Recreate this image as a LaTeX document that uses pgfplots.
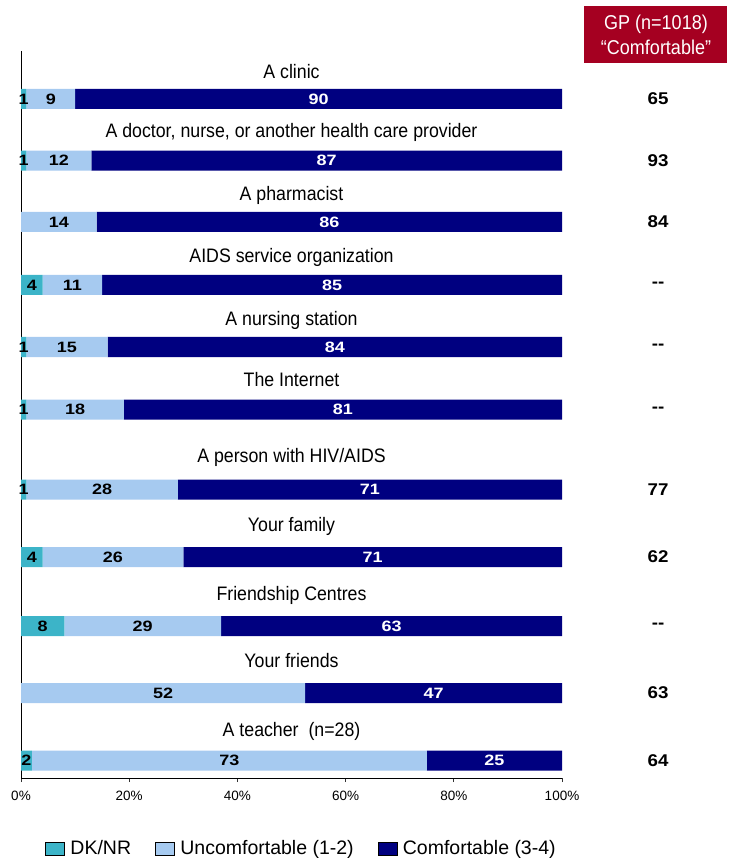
\documentclass[border=0pt]{standalone}
\usepackage{fontspec}
\setmainfont{Liberation Sans}
\usepackage{pgfplots}
\pgfplotsset{compat=1.18}
\usepackage{pgfplotstable}

\definecolor{dkc}{RGB}{60,180,200}
\definecolor{uncc}{RGB}{166,202,240}
\definecolor{comc}{RGB}{0,0,128}
\definecolor{gpred}{RGB}{165,0,33}

% y = vertical position of the bar (top-down), values in percent, labels as printed
\pgfplotstableread{
y     dk  unc   com   dkl  uncl  coml
99    1   9     90    1    9     90
160.7 1   12    87    1    12    87
222   0   14    86    {}   14    86
285   4   11    85    4    11    85
347   1   15    84    1    15    84
409.5 1   18    81    1    18    81
489.5 1   28    71    1    28    71
557   4   26    70    4    26    71
626   8   29    63    8    29    63
693   0   52.5  47.5  {}   52    47
760.5 2   73    25    2    73    25
}\datatable

\begin{document}
\begin{tikzpicture}
\path[use as bounding box] (0pt,0pt) rectangle (729pt,858pt);
\begin{axis}[
  at={(21pt,80pt)}, anchor=south west,
  width=541pt, height=727pt, scale only axis,
  xmin=0, xmax=100, ymin=51, ymax=778, y dir=reverse,
  xbar stacked, bar width=20pt,
  axis x line*=bottom, axis y line*=left,
  axis line style={black, line width=1pt},
  ytick=\empty,
  xtick={0,20,40,60,80,100},
  xticklabels={0\%,20\%,40\%,60\%,80\%,100\%},
  tick align=outside, major tick length=4pt,
  tick style={black!80, line width=0.8pt},
  xticklabel style={font=\fontsize{13.5}{15}\selectfont, yshift=-6pt},
  legend columns=3,
  legend style={draw=none, fill=none,
    at={(0.039,-0.097)}, anchor=west,
    font=\fontsize{19.5}{23}\selectfont,
    /tikz/every odd column/.append style={column sep=4pt},
    /tikz/every even column/.append style={column sep=22pt}},
  area legend,
  legend image post style={xscale=1.1, yscale=2.3},
]
\addplot[fill=dkc, draw=none] table[x=dk, y=y]{\datatable};
\addplot[fill=uncc, draw=none] table[x=unc, y=y]{\datatable};
\addplot[fill=comc, draw=none] table[x=com, y=y]{\datatable};
\legend{DK/NR, Uncomfortable (1-2), Comfortable (3-4)}
\end{axis}

% value labels, centred in their segments
\begin{axis}[
  at={(21pt,80pt)}, anchor=south west,
  width=541pt, height=727pt, scale only axis,
  xmin=0, xmax=100, ymin=51, ymax=778, y dir=reverse,
  clip=false, hide axis,
  point meta=explicit symbolic, nodes near coords,
  every node near coord/.append style={anchor=center, inner sep=0pt, xscale=1.2,
      font=\bfseries\fontsize{15}{17}\selectfont}]
\addplot[draw=none, mark=none, every node near coord/.append style={text=black}]
  table[x expr=\thisrow{dk}/2, y=y, meta=dkl]{\datatable};
\addplot[draw=none, mark=none, every node near coord/.append style={text=black}]
  table[x expr=\thisrow{dk}+\thisrow{unc}/2, y=y, meta=uncl]{\datatable};
\addplot[draw=none, mark=none, every node near coord/.append style={text=white}]
  table[x expr=\thisrow{dk}+\thisrow{unc}+\thisrow{com}/2, y=y, meta=coml]{\datatable};
\end{axis}

% category labels (x = 50 %, above each bar)
\begin{scope}[every node/.style={anchor=base, inner sep=0pt, xscale=0.91, font=\fontsize{19.5}{22}\selectfont}]
\node at (291.5pt,779pt) {A clinic};
\node at (291.5pt,720pt) {A doctor, nurse, or another health care provider};
\node at (291.5pt,657pt) {A pharmacist};
\node at (291.5pt,595pt) {AIDS service organization};
\node at (291.5pt,532pt) {A nursing station};
\node at (291.5pt,471pt) {The Internet};
\node at (291.5pt,395pt) {A person with HIV/AIDS};
\node at (291.5pt,326pt) {Your family};
\node at (291.5pt,257pt) {Friendship Centres};
\node at (291.5pt,190pt) {Your friends};
\node at (291.5pt,121pt) {A teacher\ \ (n=28)};
\end{scope}

% GP column
\fill[gpred] (584pt,795pt) rectangle (727pt,852pt);
\node[text=white, inner sep=0pt, xscale=0.9, align=center,
  font=\fontsize{20}{25}\selectfont] at (656pt,823pt)
  {GP (n=1018)\\“Comfortable”};
\begin{scope}[every node/.style={anchor=center, inner sep=0pt, xscale=1.1, font=\bfseries\fontsize{17}{19}\selectfont}]
\node at (658pt,759pt) {65};
\node at (658pt,697.3pt) {93};
\node at (658pt,636pt) {84};
\node at (658pt,573pt) {-{}-};
\node at (658pt,511pt) {-{}-};
\node at (658pt,448.5pt) {-{}-};
\node at (658pt,368.5pt) {77};
\node at (658pt,301pt) {62};
\node at (658pt,232pt) {-{}-};
\node at (658pt,165pt) {63};
\node at (658pt,97.5pt) {64};
\end{scope}
\end{tikzpicture}
\end{document}
